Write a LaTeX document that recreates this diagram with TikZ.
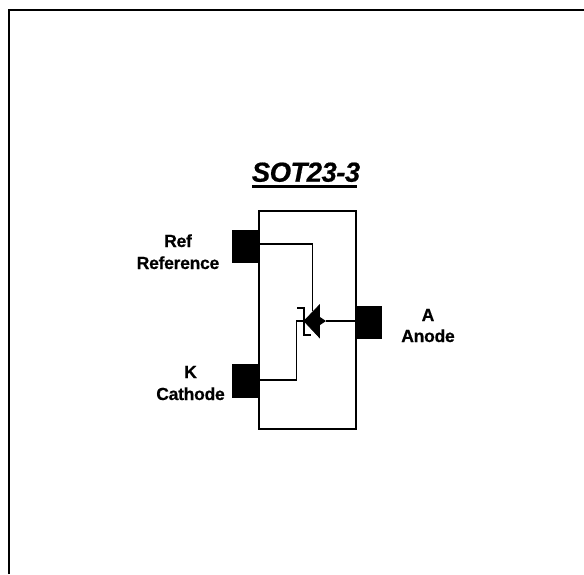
\documentclass[tikz,border=0pt]{standalone}
\usepackage{fontspec}
\setmainfont{Liberation Sans}
\newfontfamily\heavyfont[FakeBold=0.6,LetterSpace=-1.5]{Liberation Sans Bold}
\newfontfamily\titlefont[FakeBold=0.6,LetterSpace=-2]{Liberation Sans Bold Italic}
\begin{document}
\begin{tikzpicture}[x=1pt,y=-1pt,
  wire/.style={draw=black,line width=1.2pt},
  pad/.style={fill=black,draw=none},
  lbl/.style={font=\heavyfont\fontsize{17.5}{22}\selectfont,align=center,inner sep=0pt,text=black,anchor=base}]
\useasboundingbox (0,0) rectangle (584,574);
\fill[white] (0,0) rectangle (584,574);
% frame
\coordinate (fbl) at (9,574);
\coordinate (ftl) at (9,10);
\coordinate (ftr) at (584,10);
\draw[line width=2pt] (fbl) -- (ftl) -- (ftr);
% package
\node[draw=black,line width=2pt,minimum width=97pt,minimum height=218pt,inner sep=0pt,anchor=north west] (body) at (258.3,209.6) {};
\node[pad,minimum width=27pt,minimum height=33pt,inner sep=0pt] (refpad) at (245.5,246.5) {};
\node[pad,minimum width=27pt,minimum height=34pt,inner sep=0pt] (kpad) at (245.5,381) {};
\node[pad,minimum width=27pt,minimum height=33pt,inner sep=0pt] (apad) at (368.5,322.5) {};
% title
\node[inner sep=0pt,anchor=base,font=\titlefont\fontsize{27.5}{28}\selectfont] (title) at (306,181.7) {SOT23-3};
\fill (252,184.5) rectangle (357,187.5);
% labels
\node[lbl] (reflbl) at (178,247) {Ref};
\node[lbl] (reflbl2) at (178,269) {Reference};
\node[lbl] (klbl) at (190.5,378) {K};
\node[lbl] (klbl2) at (190.5,400) {Cathode};
\node[lbl] (albl) at (428,321) {A};
\node[lbl] (albl2) at (428,342) {Anode};
% diode
\coordinate (anodeTip) at (304,321);
\coordinate (atop) at (319.5,305);
\coordinate (abot) at (319.5,337.5);
\coordinate (atail) at (326,321);
\fill (anodeTip) -- (atop) -- (320,317) -- (atail) -- (320,325) -- (abot) -- cycle;
\draw[line width=0.8pt,line join=miter] (anodeTip) -- (atop) -- (abot) -- cycle;
\coordinate (refEnd) at (312.7,311);
\coordinate (refCorner) at (312.7,244);
\coordinate (kCorner) at (296.7,380);
\coordinate (kTop) at (296.7,321);
\draw[wire] (refpad.east |- refCorner) -- (refCorner) -- (refEnd);
\draw[wire] (kpad.east |- kCorner) -- (kCorner) -- (kTop);
\draw[line width=2.6pt] (296,321) -- (anodeTip);
\draw[line width=2.2pt] (apad.west |- anodeTip) -- (atail);
\draw[line width=1.4pt] (297,308) -- (304,308) -- (304,335) -- (311,335);
\end{tikzpicture}
\end{document}
